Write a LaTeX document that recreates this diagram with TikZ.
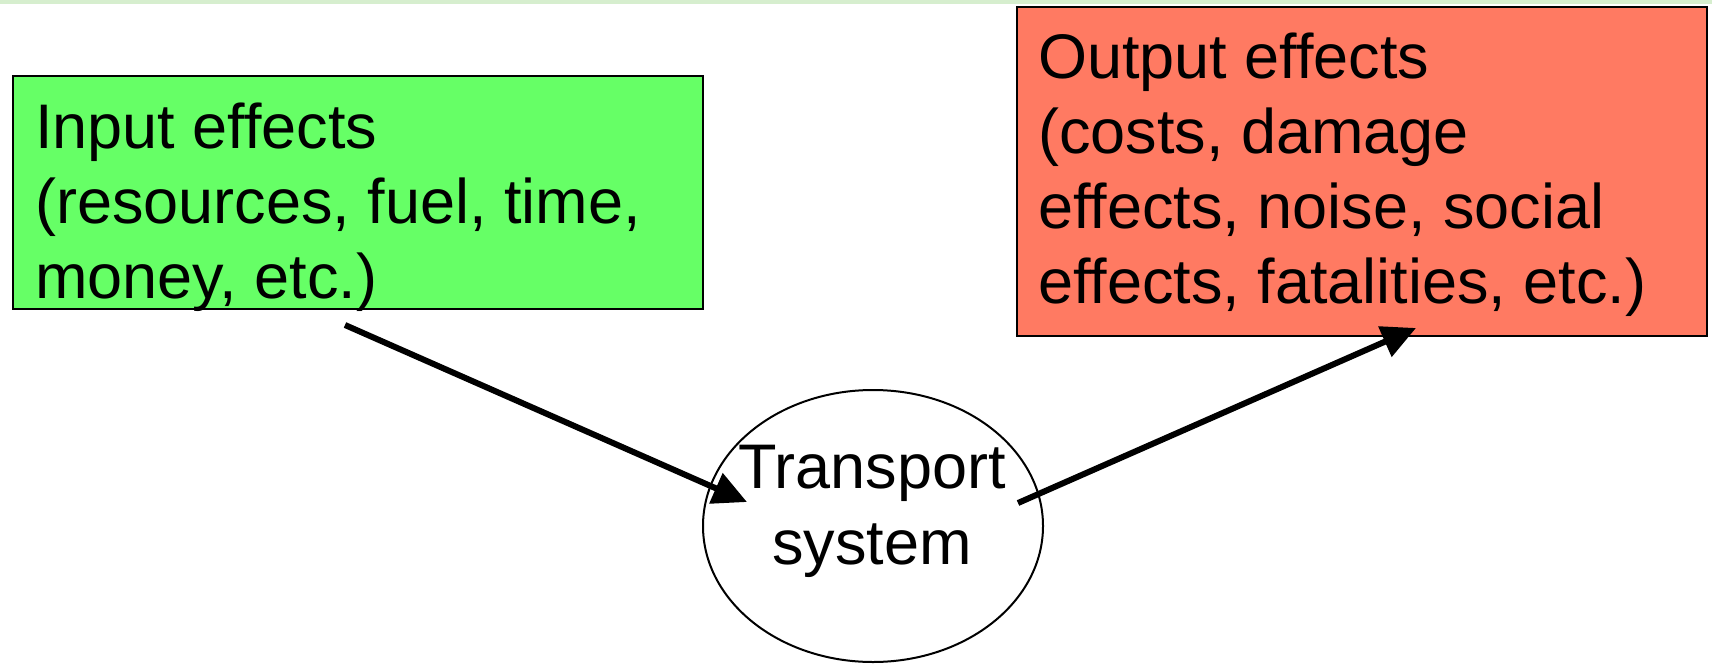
\documentclass[tikz,border=0pt]{standalone}
\usepackage{fontspec}
\setmainfont{Liberation Sans}
\usetikzlibrary{arrows.meta,shapes.geometric}
\definecolor{ingreen}{RGB}{102,255,102}
\definecolor{outred}{RGB}{255,122,98}
\definecolor{topline}{RGB}{214,238,206}
\tikzset{
  effbox/.style={draw=black,line width=2pt,inner sep=0pt,anchor=north west},
  efftext/.style={inner sep=0pt,anchor=base west,align=left,font=\fontsize{63}{75}\selectfont},
  flow/.style={line width=6pt,-{Triangle[length=34pt,width=32pt]}},
}
\begin{document}
\begin{tikzpicture}[x=1pt,y=-1pt]
\useasboundingbox (0,0) rectangle (1712,664);
\fill[white] (0,0) rectangle (1712,664);
\draw[topline,line width=4pt] (0,2) -- (1712,2);
\node[effbox,fill=ingreen,minimum width=690pt,minimum height=233pt] (inbox) at (12,75) {};
\node[efftext] (intext) at (35,298) {Input effects\\(resources, fuel, time,\\money, etc.)};
\node[effbox,fill=outred,minimum width=690pt,minimum height=329pt] (outbox) at (1016,6) {};
\node[efftext] (outtext) at (1038,303) {Output effects\\(costs, damage\\effects, noise, social\\effects, fatalities, etc.)};
\node[draw=black,line width=2pt,ellipse,minimum width=340pt,minimum height=272pt,inner sep=0pt] (ts) at (873,526) {};
\node[align=center,inner sep=0pt,anchor=base,font=\fontsize{63}{76}\selectfont] (tstext) at (872,564) {Transport\\system};
\coordinate (a1s) at (345,325);
\coordinate (a1e) at (747,502);
\coordinate (a2s) at (1018,503);
\coordinate (a2e) at (1416,328);
\draw[flow] (a1s) -- (a1e);
\draw[flow] (a2s) -- (a2e);
\end{tikzpicture}
\end{document}
